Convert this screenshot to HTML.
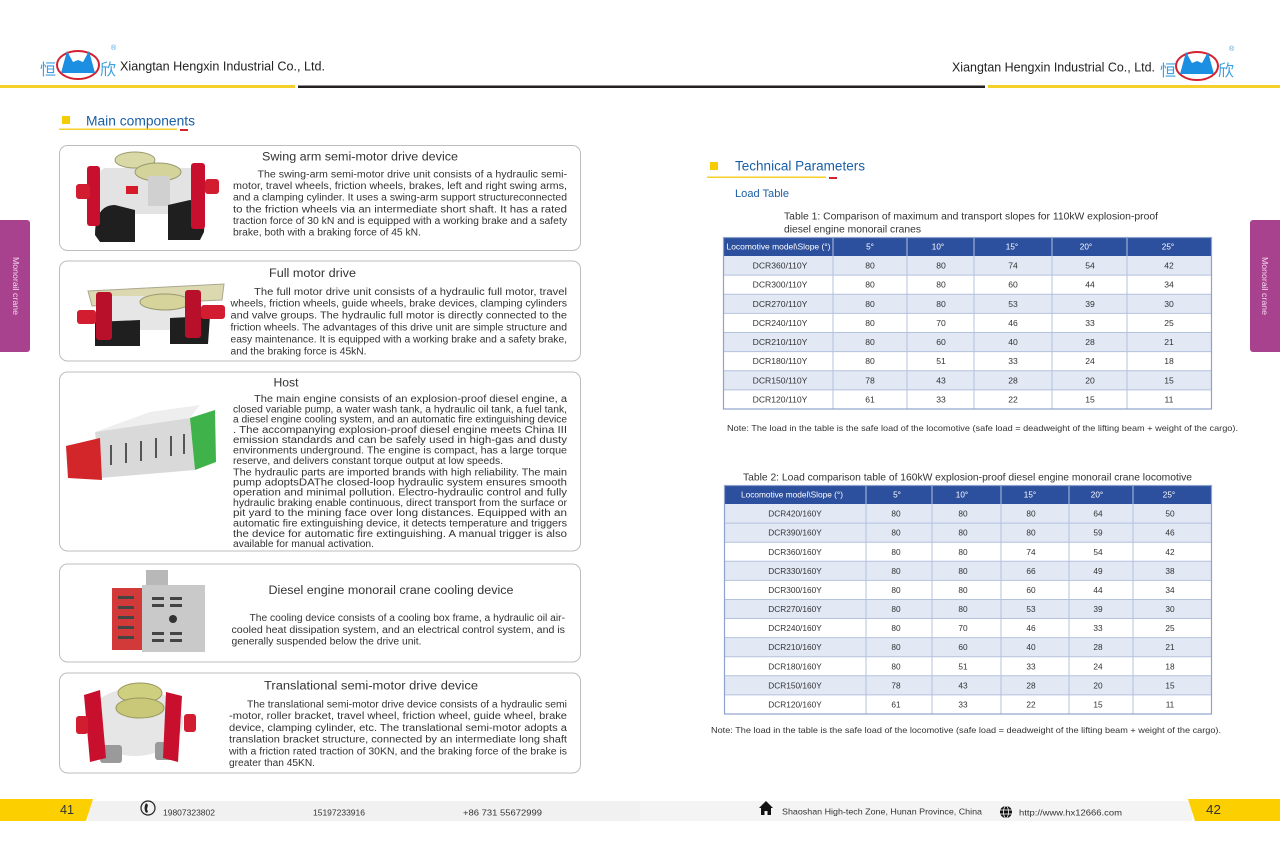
<!DOCTYPE html>
<html><head><meta charset="utf-8"><style>
html,body{margin:0;padding:0;background:#fff;}
svg{display:block;}
text{font-family:"Liberation Sans","Noto Sans CJK SC",sans-serif;}
</style></head><body>
<svg width="1280" height="868" viewBox="0 0 1280 868" xmlns="http://www.w3.org/2000/svg">
<rect width="1280" height="868" fill="#fff"/>

<!-- HEADER LEFT -->
<g>
<text x="40" y="75" font-size="16" fill="#3b9fe0" font-family="Noto Sans CJK SC, sans-serif">恒</text>
<ellipse cx="78" cy="65" rx="21" ry="14" fill="none" stroke="#d3222f" stroke-width="2"/>
<path d="M61,73 L67,51 L73,62 L78,60 L83,62 L89,51 L95,73 Z" fill="#1d8fe2"/>
<text x="100" y="75" font-size="16" fill="#3b9fe0" font-family="Noto Sans CJK SC, sans-serif">欣</text>
<text x="111" y="50" font-size="7" fill="#3b9fe0">®</text>
<text x="120" y="70.5" font-size="12.5" fill="#222" textLength="205" lengthAdjust="spacingAndGlyphs">Xiangtan Hengxin Industrial Co., Ltd.</text>
</g>
<!-- HEADER RIGHT -->
<g>
<text x="952" y="71.5" font-size="12.5" fill="#222" textLength="203" lengthAdjust="spacingAndGlyphs">Xiangtan Hengxin Industrial Co., Ltd.</text>
<text x="1160" y="76" font-size="16" fill="#3b9fe0" font-family="Noto Sans CJK SC, sans-serif">恒</text>
<ellipse cx="1197" cy="66" rx="21" ry="14" fill="none" stroke="#d3222f" stroke-width="2"/>
<path d="M1180,74 L1186,52 L1192,63 L1197,61 L1202,63 L1208,52 L1214,74 Z" fill="#1d8fe2"/>
<text x="1218" y="76" font-size="16" fill="#3b9fe0" font-family="Noto Sans CJK SC, sans-serif">欣</text>
<text x="1229" y="51" font-size="7" fill="#3b9fe0">®</text>
</g>
<!-- header lines -->
<rect x="0" y="85" width="295" height="3" fill="#f5cf2a"/>
<rect x="298" y="85.5" width="342" height="2.5" fill="#231f20"/>
<rect x="640" y="85.5" width="345" height="2.5" fill="#231f20"/>
<rect x="988" y="85" width="292" height="3" fill="#f5cf2a"/>

<!-- SIDE TABS -->
<rect x="-4" y="220" width="34" height="132" rx="3" fill="#a8428f"/>
<text transform="translate(13,257) rotate(90)" font-size="8" fill="#f6d6ee" textLength="58" lengthAdjust="spacingAndGlyphs">Monorail crane</text>
<rect x="1250" y="220" width="34" height="132" rx="3" fill="#a8428f"/>
<text transform="translate(1262,257) rotate(90)" font-size="8" fill="#f6d6ee" textLength="58" lengthAdjust="spacingAndGlyphs">Monorail crane</text>

<!-- MAIN COMPONENTS heading -->
<rect x="62" y="116" width="8" height="8" fill="#f5cc00"/>
<text x="86" y="125.5" font-size="13.5" fill="#1b5fa6" textLength="109" lengthAdjust="spacingAndGlyphs">Main components</text>
<rect x="59" y="128.5" width="118" height="1.5" fill="#f5cf2a"/>
<rect x="180" y="129" width="8" height="2" fill="#d3222f"/>

<!-- BOXES -->
<g fill="none" stroke="#bdbdbd" stroke-width="1">
<rect x="59.5" y="145.5" width="521" height="105" rx="8"/>
<rect x="59.5" y="261" width="521" height="100" rx="8"/>
<rect x="59.5" y="372" width="521" height="179" rx="8"/>
<rect x="59.5" y="564" width="521" height="98" rx="8"/>
<rect x="59.5" y="673" width="521" height="100" rx="8"/>
</g>

<!-- Box 1 image -->
<g>
<rect x="100" y="168" width="100" height="46" rx="6" fill="#e3e3e3"/>
<ellipse cx="135" cy="160" rx="20" ry="8" fill="#d9d9a8" stroke="#9a9a70"/>
<ellipse cx="158" cy="172" rx="23" ry="9" fill="#d3d39a" stroke="#9a9a70"/>
<rect x="148" y="176" width="22" height="30" fill="#d0d0d0"/>
<rect x="126" y="186" width="12" height="8" fill="#d51a2a"/>
<path d="M95,235 Q95,205 115,205 L135,210 L135,242 L100,242 Z" fill="#1f1f1f"/>
<path d="M168,240 L168,205 L190,200 Q206,204 204,232 L200,240 Z" fill="#1f1f1f"/>
<rect x="87" y="166" width="13" height="60" rx="3" fill="#c8102e"/>
<rect x="191" y="163" width="14" height="66" rx="3" fill="#c8102e"/>
<rect x="76" y="184" width="14" height="15" rx="3" fill="#d21c30"/>
<rect x="205" y="179" width="14" height="15" rx="3" fill="#d21c30"/>
</g>
<!-- Box 2 image -->
<g>
<polygon points="88,291 224,284 222,300 92,306" fill="#dcd8b0" stroke="#aaa890"/>
<rect x="105" y="296" width="95" height="34" fill="#e6e6e6"/>
<ellipse cx="165" cy="302" rx="25" ry="8" fill="#d6d49a" stroke="#9a9a70"/>
<path d="M95,346 L95,322 L140,320 L140,346 Z" fill="#1f1f1f"/>
<path d="M170,344 L170,318 L210,316 L208,344 Z" fill="#1f1f1f"/>
<rect x="96" y="292" width="16" height="48" rx="3" fill="#b8102a"/>
<rect x="185" y="290" width="16" height="48" rx="3" fill="#b8102a"/>
<rect x="77" y="310" width="19" height="14" rx="3" fill="#d21c30"/>
<rect x="201" y="305" width="24" height="14" rx="3" fill="#d21c30"/>
</g>
<!-- Box 3 image -->
<g>
<polygon points="95,432 150,412 200,405 190,418" fill="#eeeeee"/>
<polygon points="95,432 190,418 195,470 100,478" fill="#d9d9d9"/>
<g fill="#555"><rect x="110" y="445" width="2" height="20"/><rect x="125" y="443" width="2" height="20"/><rect x="140" y="441" width="2" height="20"/><rect x="155" y="438" width="2" height="20"/><rect x="170" y="436" width="2" height="20"/><rect x="183" y="434" width="2" height="20"/></g>
<polygon points="66,446 100,438 102,480 68,478" fill="#d3262a"/>
<polygon points="190,418 215,410 216,462 195,470" fill="#3fb34a"/>
</g>
<!-- Box 4 image -->
<g>
<rect x="146" y="570" width="22" height="18" fill="#b8b8b8"/>
<rect x="112" y="588" width="30" height="62" fill="#d23a3a"/>
<rect x="142" y="585" width="63" height="67" fill="#c9c9c9"/>
<g fill="#444"><rect x="118" y="596" width="16" height="3"/><rect x="118" y="606" width="16" height="3"/><rect x="118" y="616" width="16" height="3"/><rect x="118" y="626" width="16" height="3"/><rect x="118" y="636" width="16" height="3"/>
<rect x="152" y="597" width="12" height="3"/><rect x="170" y="597" width="12" height="3"/><rect x="152" y="604" width="12" height="3"/><rect x="170" y="604" width="12" height="3"/><rect x="152" y="632" width="12" height="3"/><rect x="170" y="632" width="12" height="3"/><rect x="152" y="639" width="12" height="3"/><rect x="170" y="639" width="12" height="3"/></g>
<circle cx="173" cy="619" r="4" fill="#333"/>
</g>
<!-- Box 5 image -->
<g>
<ellipse cx="135" cy="722" rx="48" ry="34" fill="#e6e6e6"/>
<ellipse cx="140" cy="693" rx="22" ry="10" fill="#cfcf80" stroke="#999960"/>
<ellipse cx="140" cy="708" rx="24" ry="10" fill="#c8c878" stroke="#999960"/>
<rect x="100" y="745" width="22" height="18" rx="3" fill="#9a9a9a"/>
<rect x="155" y="742" width="20" height="18" rx="3" fill="#9a9a9a"/>
<polygon points="84,695 100,690 106,758 90,762" fill="#c8102e"/>
<polygon points="166,692 182,696 178,762 163,758" fill="#c8102e"/>
<rect x="76" y="716" width="12" height="18" rx="3" fill="#d21c30"/>
<rect x="184" y="714" width="12" height="18" rx="3" fill="#d21c30"/>
</g>

<!-- Box texts -->
<g fill="#333" font-size="9.8">
<text x="262" y="160.5" font-size="11.5" textLength="196" lengthAdjust="spacingAndGlyphs">Swing arm semi-motor drive device</text>
<text x="257.5" y="177.3" textLength="309.5" lengthAdjust="spacingAndGlyphs">The swing-arm semi-motor drive unit consists of a hydraulic semi-</text>
<text x="233" y="189" textLength="334" lengthAdjust="spacingAndGlyphs">motor, travel wheels, friction wheels, brakes, left and right swing arms,</text>
<text x="233" y="200.7" textLength="334" lengthAdjust="spacingAndGlyphs">and a clamping cylinder. It uses a swing-arm support structureconnected</text>
<text x="233" y="212.4" textLength="334" lengthAdjust="spacingAndGlyphs">to the friction wheels via an intermediate short shaft. It has a rated</text>
<text x="233" y="224.1" textLength="334" lengthAdjust="spacingAndGlyphs">traction force of 30 kN and is equipped with a working brake and a safety</text>
<text x="233" y="235.6" textLength="188" lengthAdjust="spacingAndGlyphs">brake, both with a braking force of 45 kN.</text>

<text x="269" y="277" font-size="11.5" textLength="87" lengthAdjust="spacingAndGlyphs">Full motor drive</text>
<text x="254" y="294.8" textLength="313" lengthAdjust="spacingAndGlyphs">The full motor drive unit consists of a hydraulic full motor, travel</text>
<text x="230.5" y="306.7" textLength="336.5" lengthAdjust="spacingAndGlyphs">wheels, friction wheels, guide wheels, brake devices, clamping cylinders</text>
<text x="230.5" y="318.6" textLength="336.5" lengthAdjust="spacingAndGlyphs">and valve groups. The hydraulic full motor is directly connected to the</text>
<text x="230.5" y="330.5" textLength="336.5" lengthAdjust="spacingAndGlyphs">friction wheels. The advantages of this drive unit are simple structure and</text>
<text x="230.5" y="342.4" textLength="336.5" lengthAdjust="spacingAndGlyphs">easy maintenance. It is equipped with a working brake and a safety brake,</text>
<text x="230.5" y="354.3" textLength="136" lengthAdjust="spacingAndGlyphs">and the braking force is 45kN.</text>

<text x="273.5" y="386.5" font-size="11.5" textLength="25" lengthAdjust="spacingAndGlyphs">Host</text>
<text x="254" y="402" textLength="313" lengthAdjust="spacingAndGlyphs">The main engine consists of an explosion-proof diesel engine, a</text>
<text x="233" y="412.3" textLength="334" lengthAdjust="spacingAndGlyphs">closed variable pump, a water wash tank, a hydraulic oil tank, a fuel tank,</text>
<text x="233" y="422.6" textLength="334" lengthAdjust="spacingAndGlyphs">a diesel engine cooling system, and an automatic fire extinguishing device</text>
<text x="233" y="432.9" textLength="334" lengthAdjust="spacingAndGlyphs">. The accompanying explosion-proof diesel engine meets China III</text>
<text x="233" y="443.2" textLength="334" lengthAdjust="spacingAndGlyphs">emission standards and can be safely used in high-gas and dusty</text>
<text x="233" y="453.5" textLength="334" lengthAdjust="spacingAndGlyphs">environments underground. The engine is compact, has a large torque</text>
<text x="233" y="463.8" textLength="270" lengthAdjust="spacingAndGlyphs">reserve, and delivers constant torque output at low speeds.</text>
<text x="233" y="475.5" textLength="334" lengthAdjust="spacingAndGlyphs">The hydraulic parts are imported brands with high reliability. The main</text>
<text x="233" y="485.5" textLength="334" lengthAdjust="spacingAndGlyphs">pump adoptsDAThe closed-loop hydraulic system ensures smooth</text>
<text x="233" y="495.6" textLength="334" lengthAdjust="spacingAndGlyphs">operation and minimal pollution. Electro-hydraulic control and fully</text>
<text x="233" y="505.9" textLength="334" lengthAdjust="spacingAndGlyphs">hydraulic braking enable continuous, direct transport from the surface or</text>
<text x="233" y="516.2" textLength="334" lengthAdjust="spacingAndGlyphs">pit yard to the mining face over long distances. Equipped with an</text>
<text x="233" y="526.5" textLength="334" lengthAdjust="spacingAndGlyphs">automatic fire extinguishing device, it detects temperature and triggers</text>
<text x="233" y="536.8" textLength="334" lengthAdjust="spacingAndGlyphs">the device for automatic fire extinguishing. A manual trigger is also</text>
<text x="233" y="547" textLength="141" lengthAdjust="spacingAndGlyphs">available for manual activation.</text>

<text x="268.5" y="594" font-size="11.5" textLength="245" lengthAdjust="spacingAndGlyphs">Diesel engine monorail crane cooling device</text>
<text x="249.5" y="621" textLength="315.5" lengthAdjust="spacingAndGlyphs">The cooling device consists of a cooling box frame, a hydraulic oil air-</text>
<text x="231.5" y="632.8" textLength="333.5" lengthAdjust="spacingAndGlyphs">cooled heat dissipation system, and an electrical control system, and is</text>
<text x="231.5" y="644.5" textLength="190" lengthAdjust="spacingAndGlyphs">generally suspended below the drive unit.</text>

<text x="264" y="689.5" font-size="11.5" textLength="214" lengthAdjust="spacingAndGlyphs">Translational semi-motor drive device</text>
<text x="247" y="707.3" textLength="320" lengthAdjust="spacingAndGlyphs">The translational semi-motor drive device consists of a hydraulic semi</text>
<text x="229" y="719.1" textLength="338" lengthAdjust="spacingAndGlyphs">-motor, roller bracket, travel wheel, friction wheel, guide wheel, brake</text>
<text x="229" y="730.9" textLength="338" lengthAdjust="spacingAndGlyphs">device, clamping cylinder, etc. The translational semi-motor adopts a</text>
<text x="229" y="742.7" textLength="338" lengthAdjust="spacingAndGlyphs">translation bracket structure, connected by an intermediate long shaft</text>
<text x="229" y="754.5" textLength="338" lengthAdjust="spacingAndGlyphs">with a friction rated traction of 30KN, and the braking force of the brake is</text>
<text x="229" y="766" textLength="86" lengthAdjust="spacingAndGlyphs">greater than 45KN.</text>
</g>

<!-- RIGHT PAGE HEADINGS -->
<rect x="710" y="162" width="8" height="8" fill="#f5cc00"/>
<text x="735" y="170.5" font-size="13.5" fill="#1b5fa6" textLength="130" lengthAdjust="spacingAndGlyphs">Technical Parameters</text>
<rect x="707" y="176.5" width="119" height="1.5" fill="#f5cf2a"/>
<rect x="829" y="177" width="8" height="2" fill="#d3222f"/>
<text x="735" y="197" font-size="11" fill="#1b5fa6" textLength="54" lengthAdjust="spacingAndGlyphs">Load Table</text>

<g fill="#333" font-size="10">
<text x="784" y="219.5" textLength="374" lengthAdjust="spacingAndGlyphs">Table 1: Comparison of maximum and transport slopes for 110kW explosion-proof</text>
<text x="784" y="232.5" textLength="137" lengthAdjust="spacingAndGlyphs">diesel engine monorail cranes</text>
<text x="743" y="480.5" font-size="10.3" textLength="449" lengthAdjust="spacingAndGlyphs">Table 2: Load comparison table of 160kW explosion-proof diesel engine monorail crane locomotive</text>
<text x="727" y="431" font-size="8.5" textLength="511" lengthAdjust="spacingAndGlyphs">Note: The load in the table is the safe load of the locomotive (safe load = deadweight of the lifting beam + weight of the cargo).</text>
<text x="711" y="733" font-size="8.5" textLength="510" lengthAdjust="spacingAndGlyphs">Note: The load in the table is the safe load of the locomotive (safe load = deadweight of the lifting beam + weight of the cargo).</text>
</g>

<!-- TABLE 1 -->
<g>
<rect x="723" y="237" width="489" height="19" fill="#2c4f9e"/>
<g fill="#e2e8f4">
<rect x="723" y="256" width="489" height="19.1"/>
<rect x="723" y="294.3" width="489" height="19.1"/>
<rect x="723" y="332.5" width="489" height="19.1"/>
<rect x="723" y="370.8" width="489" height="19.1"/>
</g>
<g stroke="#b4c2de" stroke-width="1">
<line x1="723" y1="275.1" x2="1212" y2="275.1"/><line x1="723" y1="294.3" x2="1212" y2="294.3"/><line x1="723" y1="313.4" x2="1212" y2="313.4"/><line x1="723" y1="332.5" x2="1212" y2="332.5"/><line x1="723" y1="351.6" x2="1212" y2="351.6"/><line x1="723" y1="370.8" x2="1212" y2="370.8"/><line x1="723" y1="389.9" x2="1212" y2="389.9"/>
<line x1="833" y1="237" x2="833" y2="409"/><line x1="907" y1="237" x2="907" y2="409"/><line x1="974" y1="237" x2="974" y2="409"/><line x1="1052" y1="237" x2="1052" y2="409"/><line x1="1127" y1="237" x2="1127" y2="409"/>
</g>
<rect x="723.5" y="237.5" width="488" height="171.5" fill="none" stroke="#8fa2cc" stroke-width="1.2"/>
<g fill="#fff" font-size="8.2" text-anchor="middle">
<text x="778.5" y="249.5" textLength="104" lengthAdjust="spacingAndGlyphs">Locomotive model\Slope (°)</text>
<text x="870" y="249.5">5°</text><text x="938" y="249.5">10°</text><text x="1012" y="249.5">15°</text><text x="1086" y="249.5">20°</text><text x="1168" y="249.5">25°</text>
</g>
<g fill="#333" font-size="8.6" text-anchor="middle">
<text x="780" y="268.6">DCR360/110Y</text><text x="870" y="268.6">80</text><text x="941" y="268.6">80</text><text x="1013" y="268.6">74</text><text x="1090" y="268.6">54</text><text x="1169" y="268.6">42</text>
<text x="780" y="287.7">DCR300/110Y</text><text x="870" y="287.7">80</text><text x="941" y="287.7">80</text><text x="1013" y="287.7">60</text><text x="1090" y="287.7">44</text><text x="1169" y="287.7">34</text>
<text x="780" y="306.9">DCR270/110Y</text><text x="870" y="306.9">80</text><text x="941" y="306.9">80</text><text x="1013" y="306.9">53</text><text x="1090" y="306.9">39</text><text x="1169" y="306.9">30</text>
<text x="780" y="326">DCR240/110Y</text><text x="870" y="326">80</text><text x="941" y="326">70</text><text x="1013" y="326">46</text><text x="1090" y="326">33</text><text x="1169" y="326">25</text>
<text x="780" y="345.1">DCR210/110Y</text><text x="870" y="345.1">80</text><text x="941" y="345.1">60</text><text x="1013" y="345.1">40</text><text x="1090" y="345.1">28</text><text x="1169" y="345.1">21</text>
<text x="780" y="364.2">DCR180/110Y</text><text x="870" y="364.2">80</text><text x="941" y="364.2">51</text><text x="1013" y="364.2">33</text><text x="1090" y="364.2">24</text><text x="1169" y="364.2">18</text>
<text x="780" y="383.4">DCR150/110Y</text><text x="870" y="383.4">78</text><text x="941" y="383.4">43</text><text x="1013" y="383.4">28</text><text x="1090" y="383.4">20</text><text x="1169" y="383.4">15</text>
<text x="780" y="402.5">DCR120/110Y</text><text x="870" y="402.5">61</text><text x="941" y="402.5">33</text><text x="1013" y="402.5">22</text><text x="1090" y="402.5">15</text><text x="1169" y="402.5">11</text>
</g>
</g>

<!-- TABLE 2 -->
<g>
<rect x="724" y="485" width="488" height="19" fill="#2c4f9e"/>
<g fill="#e2e8f4">
<rect x="724" y="504" width="488" height="38.2"/>
<rect x="724" y="561.3" width="488" height="19.1"/>
<rect x="724" y="599.5" width="488" height="19"/>
<rect x="724" y="637.6" width="488" height="19.1"/>
<rect x="724" y="675.8" width="488" height="19.1"/>
</g>
<g stroke="#b4c2de" stroke-width="1">
<line x1="724" y1="523.1" x2="1212" y2="523.1"/><line x1="724" y1="542.2" x2="1212" y2="542.2"/><line x1="724" y1="561.3" x2="1212" y2="561.3"/><line x1="724" y1="580.4" x2="1212" y2="580.4"/><line x1="724" y1="599.5" x2="1212" y2="599.5"/><line x1="724" y1="618.5" x2="1212" y2="618.5"/><line x1="724" y1="637.6" x2="1212" y2="637.6"/><line x1="724" y1="656.7" x2="1212" y2="656.7"/><line x1="724" y1="675.8" x2="1212" y2="675.8"/><line x1="724" y1="694.9" x2="1212" y2="694.9"/>
<line x1="866" y1="485" x2="866" y2="714"/><line x1="932" y1="485" x2="932" y2="714"/><line x1="1001" y1="485" x2="1001" y2="714"/><line x1="1069" y1="485" x2="1069" y2="714"/><line x1="1133" y1="485" x2="1133" y2="714"/>
</g>
<rect x="724.5" y="485.5" width="487" height="228.5" fill="none" stroke="#8fa2cc" stroke-width="1.2"/>
<g fill="#fff" font-size="8.2" text-anchor="middle">
<text x="792" y="497.5" textLength="102" lengthAdjust="spacingAndGlyphs">Locomotive model\Slope (°)</text>
<text x="897" y="497.5">5°</text><text x="962" y="497.5">10°</text><text x="1030" y="497.5">15°</text><text x="1097" y="497.5">20°</text><text x="1169" y="497.5">25°</text>
</g>
<g fill="#333" font-size="8.3" text-anchor="middle">
<text x="795" y="516.6">DCR420/160Y</text><text x="896" y="516.6">80</text><text x="963" y="516.6">80</text><text x="1031" y="516.6">80</text><text x="1098" y="516.6">64</text><text x="1170" y="516.6">50</text>
<text x="795" y="535.7">DCR390/160Y</text><text x="896" y="535.7">80</text><text x="963" y="535.7">80</text><text x="1031" y="535.7">80</text><text x="1098" y="535.7">59</text><text x="1170" y="535.7">46</text>
<text x="795" y="554.8">DCR360/160Y</text><text x="896" y="554.8">80</text><text x="963" y="554.8">80</text><text x="1031" y="554.8">74</text><text x="1098" y="554.8">54</text><text x="1170" y="554.8">42</text>
<text x="795" y="573.9">DCR330/160Y</text><text x="896" y="573.9">80</text><text x="963" y="573.9">80</text><text x="1031" y="573.9">66</text><text x="1098" y="573.9">49</text><text x="1170" y="573.9">38</text>
<text x="795" y="593">DCR300/160Y</text><text x="896" y="593">80</text><text x="963" y="593">80</text><text x="1031" y="593">60</text><text x="1098" y="593">44</text><text x="1170" y="593">34</text>
<text x="795" y="612.1">DCR270/160Y</text><text x="896" y="612.1">80</text><text x="963" y="612.1">80</text><text x="1031" y="612.1">53</text><text x="1098" y="612.1">39</text><text x="1170" y="612.1">30</text>
<text x="795" y="631.1">DCR240/160Y</text><text x="896" y="631.1">80</text><text x="963" y="631.1">70</text><text x="1031" y="631.1">46</text><text x="1098" y="631.1">33</text><text x="1170" y="631.1">25</text>
<text x="795" y="650.2">DCR210/160Y</text><text x="896" y="650.2">80</text><text x="963" y="650.2">60</text><text x="1031" y="650.2">40</text><text x="1098" y="650.2">28</text><text x="1170" y="650.2">21</text>
<text x="795" y="669.3">DCR180/160Y</text><text x="896" y="669.3">80</text><text x="963" y="669.3">51</text><text x="1031" y="669.3">33</text><text x="1098" y="669.3">24</text><text x="1170" y="669.3">18</text>
<text x="795" y="688.4">DCR150/160Y</text><text x="896" y="688.4">78</text><text x="963" y="688.4">43</text><text x="1031" y="688.4">28</text><text x="1098" y="688.4">20</text><text x="1170" y="688.4">15</text>
<text x="795" y="707.5">DCR120/160Y</text><text x="896" y="707.5">61</text><text x="963" y="707.5">33</text><text x="1031" y="707.5">22</text><text x="1098" y="707.5">15</text><text x="1170" y="707.5">11</text>
</g>
</g>

<!-- FOOTER -->
<rect x="88" y="801" width="552" height="20" fill="#f1f1f1"/>
<rect x="640" y="801" width="552" height="20" fill="#f4f4f4"/>
<polygon points="0,799 93,799 86,821 0,821" fill="#fcd000"/>
<polygon points="1188,799 1280,799 1280,821 1195,821" fill="#fcd000"/>
<text x="60" y="814" font-size="13" fill="#333" textLength="14" lengthAdjust="spacingAndGlyphs">41</text>
<text x="1206" y="814" font-size="13" fill="#333" textLength="15" lengthAdjust="spacingAndGlyphs">42</text>
<!-- phone icon -->
<circle cx="148" cy="808" r="7" fill="none" stroke="#222" stroke-width="1.2"/>
<path d="M146,803 Q143,808 146,813 L148,812 L147,809 L148,805 Z" fill="#222"/>
<g fill="#333" font-size="8.5">
<text x="163" y="815.5" textLength="52" lengthAdjust="spacingAndGlyphs">19807323802</text>
<text x="313" y="815.5" textLength="52" lengthAdjust="spacingAndGlyphs">15197233916</text>
<text x="463" y="815.5" textLength="79" lengthAdjust="spacingAndGlyphs">+86 731 55672999</text>
<text x="782" y="814.5" textLength="200" lengthAdjust="spacingAndGlyphs">Shaoshan High-tech Zone, Hunan Province, China</text>
<text x="1019" y="815.5" textLength="103" lengthAdjust="spacingAndGlyphs">http://www.hx12666.com</text>
</g>
<!-- house icon -->
<polygon points="766,801 759,808 761,808 761,815 764.5,815 764.5,811 767.5,811 767.5,815 771,815 771,808 773,808" fill="#111"/>
<!-- globe icon -->
<circle cx="1006" cy="812" r="6" fill="#111"/>
<g stroke="#fff" stroke-width="0.8" fill="none"><ellipse cx="1006" cy="812" rx="2.5" ry="6"/><line x1="1000" y1="810" x2="1012" y2="810"/><line x1="1000" y1="814" x2="1012" y2="814"/></g>
</svg>
</body></html>
